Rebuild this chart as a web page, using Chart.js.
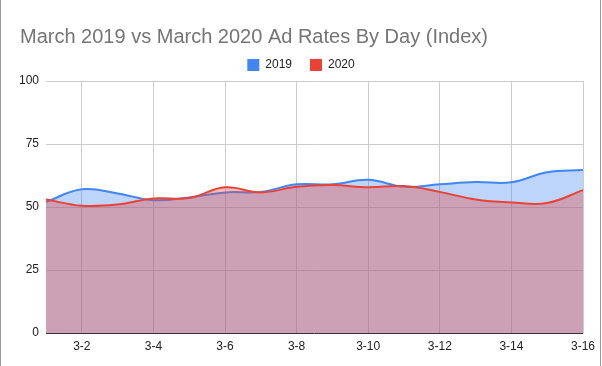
<!DOCTYPE html>
<html>
<head>
<meta charset="utf-8">
<script src="https://cdn.jsdelivr.net/npm/chart.js@4/dist/chart.umd.min.js"></script>
<style>
  html, body { margin: 0; padding: 0; background: #fff; }
  #wrap { position: relative; width: 602px; height: 366px; }
  #wrap canvas { position: absolute; left: 0; top: 0; }
  .edge { position: absolute; top: 0; width: 1px; height: 366px; background: #9a9a9a; }
</style>
</head>
<body>
<div id="wrap">
  <canvas id="c" width="602" height="366"></canvas>
  <div class="edge" style="left:0"></div>
  <div class="edge" style="left:600px"></div>
</div>
<script>
const categories = ['3-1','3-2','3-3','3-4','3-5','3-6','3-7','3-8','3-9','3-10','3-11','3-12','3-13','3-14','3-15','3-16'];
const series2019 = [52.0, 57.0, 55.4, 52.7, 53.8, 55.8, 56.0, 59.0, 59.0, 60.8, 58.0, 59.0, 59.9, 59.8, 63.8, 64.7];
const series2020 = [53.0, 50.5, 51.0, 53.4, 53.6, 57.8, 55.8, 58.0, 58.7, 57.8, 58.3, 56.0, 53.0, 51.8, 51.6, 56.7];
const yTicks = [0, 25, 50, 75, 100];
const titleText = 'March 2019 vs March 2020 Ad Rates By Day (Index)';

const FONT = "Arial, 'Liberation Sans', sans-serif";

const titleShift = {
  id: 'titleShift',
  afterLayout(chart) {
    if (chart.titleBlock) chart.titleBlock.left = 20;
  }
};

new Chart(document.getElementById('c'), {
  type: 'line',
  data: {
    labels: categories,
    datasets: [
      {
        label: '2019',
        data: series2019,
        borderColor: '#4285F4',
        backgroundColor: 'rgba(66,133,244,0.35)',
        borderWidth: 2,
        fill: 'origin',
        tension: 0.4,
        pointRadius: 0,
        order: 2
      },
      {
        label: '2020',
        data: series2020,
        borderColor: '#EA4335',
        backgroundColor: 'rgba(234,67,53,0.35)',
        borderWidth: 2,
        fill: 'origin',
        tension: 0.4,
        pointRadius: 0,
        order: 1
      }
    ]
  },
  options: {
    responsive: false,
    animation: false,
    devicePixelRatio: 1,
    layout: { padding: 0 },
    plugins: {
      title: {
        display: true,
        text: titleText,
        align: 'start',
        color: '#757575',
        font: { family: FONT, size: 20, weight: 'normal', lineHeight: 0.4 },
        padding: { top: 25, bottom: 0 }
      },
      legend: {
        display: true,
        position: 'top',
        align: 'center',
        labels: {
          boxWidth: 12,
          boxHeight: 12,
          padding: 18,
          color: '#222',
          font: { family: FONT, size: 12 },
          generateLabels(chart) {
            return chart.data.datasets.map((ds, i) => ({
              text: ds.label,
              fillStyle: ds.borderColor,
              strokeStyle: ds.borderColor,
              lineWidth: 0,
              hidden: false,
              datasetIndex: i,
              fontColor: '#222'
            }));
          }
        }
      },
      tooltip: { enabled: false }
    },
    scales: {
      x: {
        border: { display: false },
        grid: {
          drawTicks: false,
          color: (ctx) => (ctx.index % 2 === 1 ? '#cccccc' : 'rgba(0,0,0,0)'),
          lineWidth: 1
        },
        ticks: {
          autoSkip: false,
          maxRotation: 0,
          padding: 6,
          color: '#222',
          font: { family: FONT, size: 12 },
          callback: function (v, i) { return i % 2 === 1 ? categories[i] : ''; }
        },
        afterFit(s) { s.height = 33; s.paddingRight = 19; s.paddingLeft = 0; }
      },
      y: {
        min: 0,
        max: 100,
        border: { display: false },
        grid: {
          drawTicks: false,
          color: (ctx) => (ctx.tick && ctx.tick.value === 0 ? '#333333' : '#cccccc'),
          lineWidth: 1
        },
        afterBuildTicks(s) { s.ticks = yTicks.map(v => ({ value: v })); },
        ticks: {
          padding: 7,
          color: '#222',
          font: { family: FONT, size: 12 }
        },
        afterFit(s) { s.width = 46; s.paddingTop = 81; }
      }
    }
  },
  plugins: [titleShift]
});
</script>
</body>
</html>
